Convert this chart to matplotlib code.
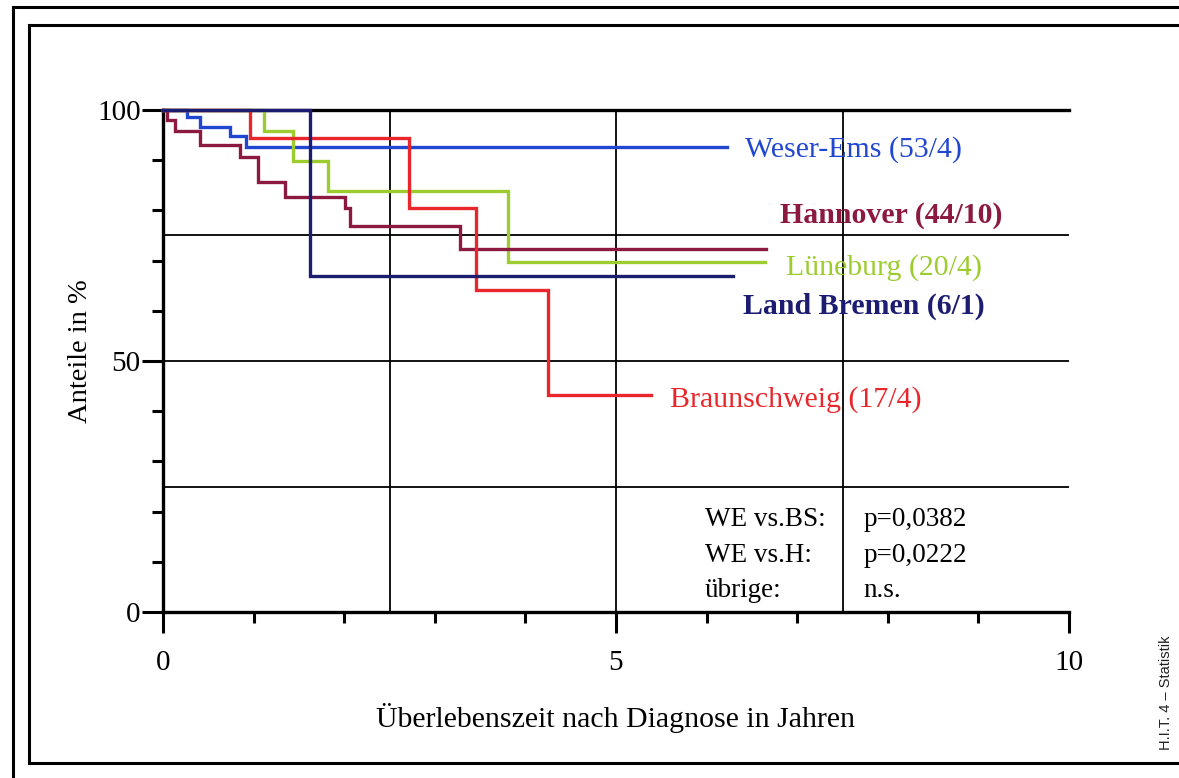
import matplotlib
matplotlib.use("Agg")
import matplotlib.pyplot as plt
from matplotlib.lines import Line2D
from matplotlib.ticker import MultipleLocator

# ---- data ----
weser_t = [0, 0.26, 0.41, 0.74, 0.92, 6.23]
weser_s = [100, 98.7, 96.7, 94.9, 92.7, 92.7]

hannover_t = [0, 0.04, 0.13, 0.41, 0.85, 1.05, 1.35, 2.01, 2.06, 3.28, 6.66]
hannover_s = [100, 98.0, 95.8, 93.0, 90.7, 85.6, 82.7, 80.4, 76.8, 72.4, 72.4]

luneburg_t = [0, 1.11, 1.44, 1.82, 3.81, 6.64]
luneburg_s = [100, 95.8, 89.9, 83.8, 69.8, 69.8]

bremen_t = [0, 1.62, 6.29]
bremen_s = [100, 67.0, 67.0]

braunschweig_t = [0, 0.96, 2.71, 3.46, 4.25, 5.39]
braunschweig_s = [100, 94.4, 80.4, 64.1, 43.2, 43.2]

series_labels = ["Weser-Ems (53/4)", "Hannover (44/10)", "Lüneburg (20/4)",
                 "Land Bremen (6/1)", "Braunschweig (17/4)"]
label_x = [6.42, 6.81, 6.88, 6.40, 5.60]
label_y = [92.2, 79.0, 68.7, 60.9, 42.3]

stats_left = ["WE vs.BS:", "WE vs.H:", "übrige:"]
stats_right = ["p=0,0382", "p=0,0222", "n.s."]
stats_y = [18.5, 11.2, 4.2]

x_ticks = [0, 5, 10]
y_ticks = [0, 50, 100]

# ---- styles ----
colors = ["#2146d0", "#8c1a40", "#9ccc2e", "#1c1c70", "#e8262c"]
weights = ["normal", "bold", "normal", "bold", "normal"]
SERIF = "Liberation Serif"

W, H = 1179, 778
fig = plt.figure(figsize=(W / 100, H / 100), dpi=100)
fig.patch.set_facecolor("white")

ax = fig.add_axes([163 / W, 1 - 612 / H, (1069 - 163) / W, (612 - 110) / H])
ax.set_xlim(0, 10)
ax.set_ylim(0, 100)

# grid
for gx in [2.5, 5, 7.5]:
    ax.axvline(gx, color="black", lw=1.3, zorder=1)
for gy in [25, 50, 75]:
    ax.axhline(gy, color="black", lw=1.3, zorder=1)

curves = [(weser_t, weser_s), (hannover_t, hannover_s), (luneburg_t, luneburg_s),
          (bremen_t, bremen_s), (braunschweig_t, braunschweig_s)]
zorders = [3, 4, 3, 5, 4]
for (t, s), c, z in zip(curves, colors, zorders):
    ax.step(t, s, where="post", color=c, lw=2.4, zorder=z, clip_on=False,
            solid_joinstyle="miter")

for txt, x, y, c, w in zip(series_labels, label_x, label_y, colors, weights):
    ax.text(x, y, txt, color=c, fontsize=21.5, fontweight=w, family=SERIF,
            va="center", ha="left", zorder=2)

for txt, y in zip(stats_left, stats_y):
    ax.text(5.98, y, txt, fontsize=19.5, family=SERIF, va="center", ha="left")
for txt, y in zip(stats_right, stats_y):
    ax.text(7.73, y, txt, fontsize=19.5, family=SERIF, va="center", ha="left")

# spines
for side in ["left", "bottom", "top"]:
    ax.spines[side].set_linewidth(2.4)
    ax.spines[side].set_color("black")
ax.spines["right"].set_visible(False)

ax.set_xticks(x_ticks)
ax.set_yticks(y_ticks)
ax.xaxis.set_minor_locator(MultipleLocator(1))
ax.yaxis.set_minor_locator(MultipleLocator(10))
ax.tick_params(axis="both", which="major", direction="out", width=2.2, length=15,
               labelsize=21, color="black")
ax.tick_params(axis="both", which="minor", direction="out", width=2.2, length=8)
ax.tick_params(axis="x", which="major", pad=12)
ax.tick_params(axis="y", which="major", pad=1)
for lab in ax.get_xticklabels() + ax.get_yticklabels():
    lab.set_family(SERIF)

ax.set_xlabel("Überlebenszeit nach Diagnose in Jahren", fontsize=21.5, family=SERIF,
              labelpad=20)
ax.set_ylabel("Anteile in %", fontsize=20.5, family=SERIF)
ax.yaxis.set_label_coords(-0.077, 0.52)

# outer decorative frames (figure pixel coordinates)
def fline(xs, ys, lw=2.2):
    fig.add_artist(Line2D([x / W for x in xs], [1 - y / H for y in ys],
                          color="black", lw=lw, transform=fig.transFigure))

fline([13, W], [7, 7])
fline([13, 13], [7, H])
fline([29, W], [25, 25])
fline([29, 29], [25, 763])
fline([29, W], [763, 763])

fig.text(1166 / W, 1 - 693 / H, "H.I.T. 4 – Statistik", rotation=90, fontsize=10.5,
         family="Liberation Sans", color="#222222", ha="center", va="center")

fig.savefig("out.png", dpi=100)
